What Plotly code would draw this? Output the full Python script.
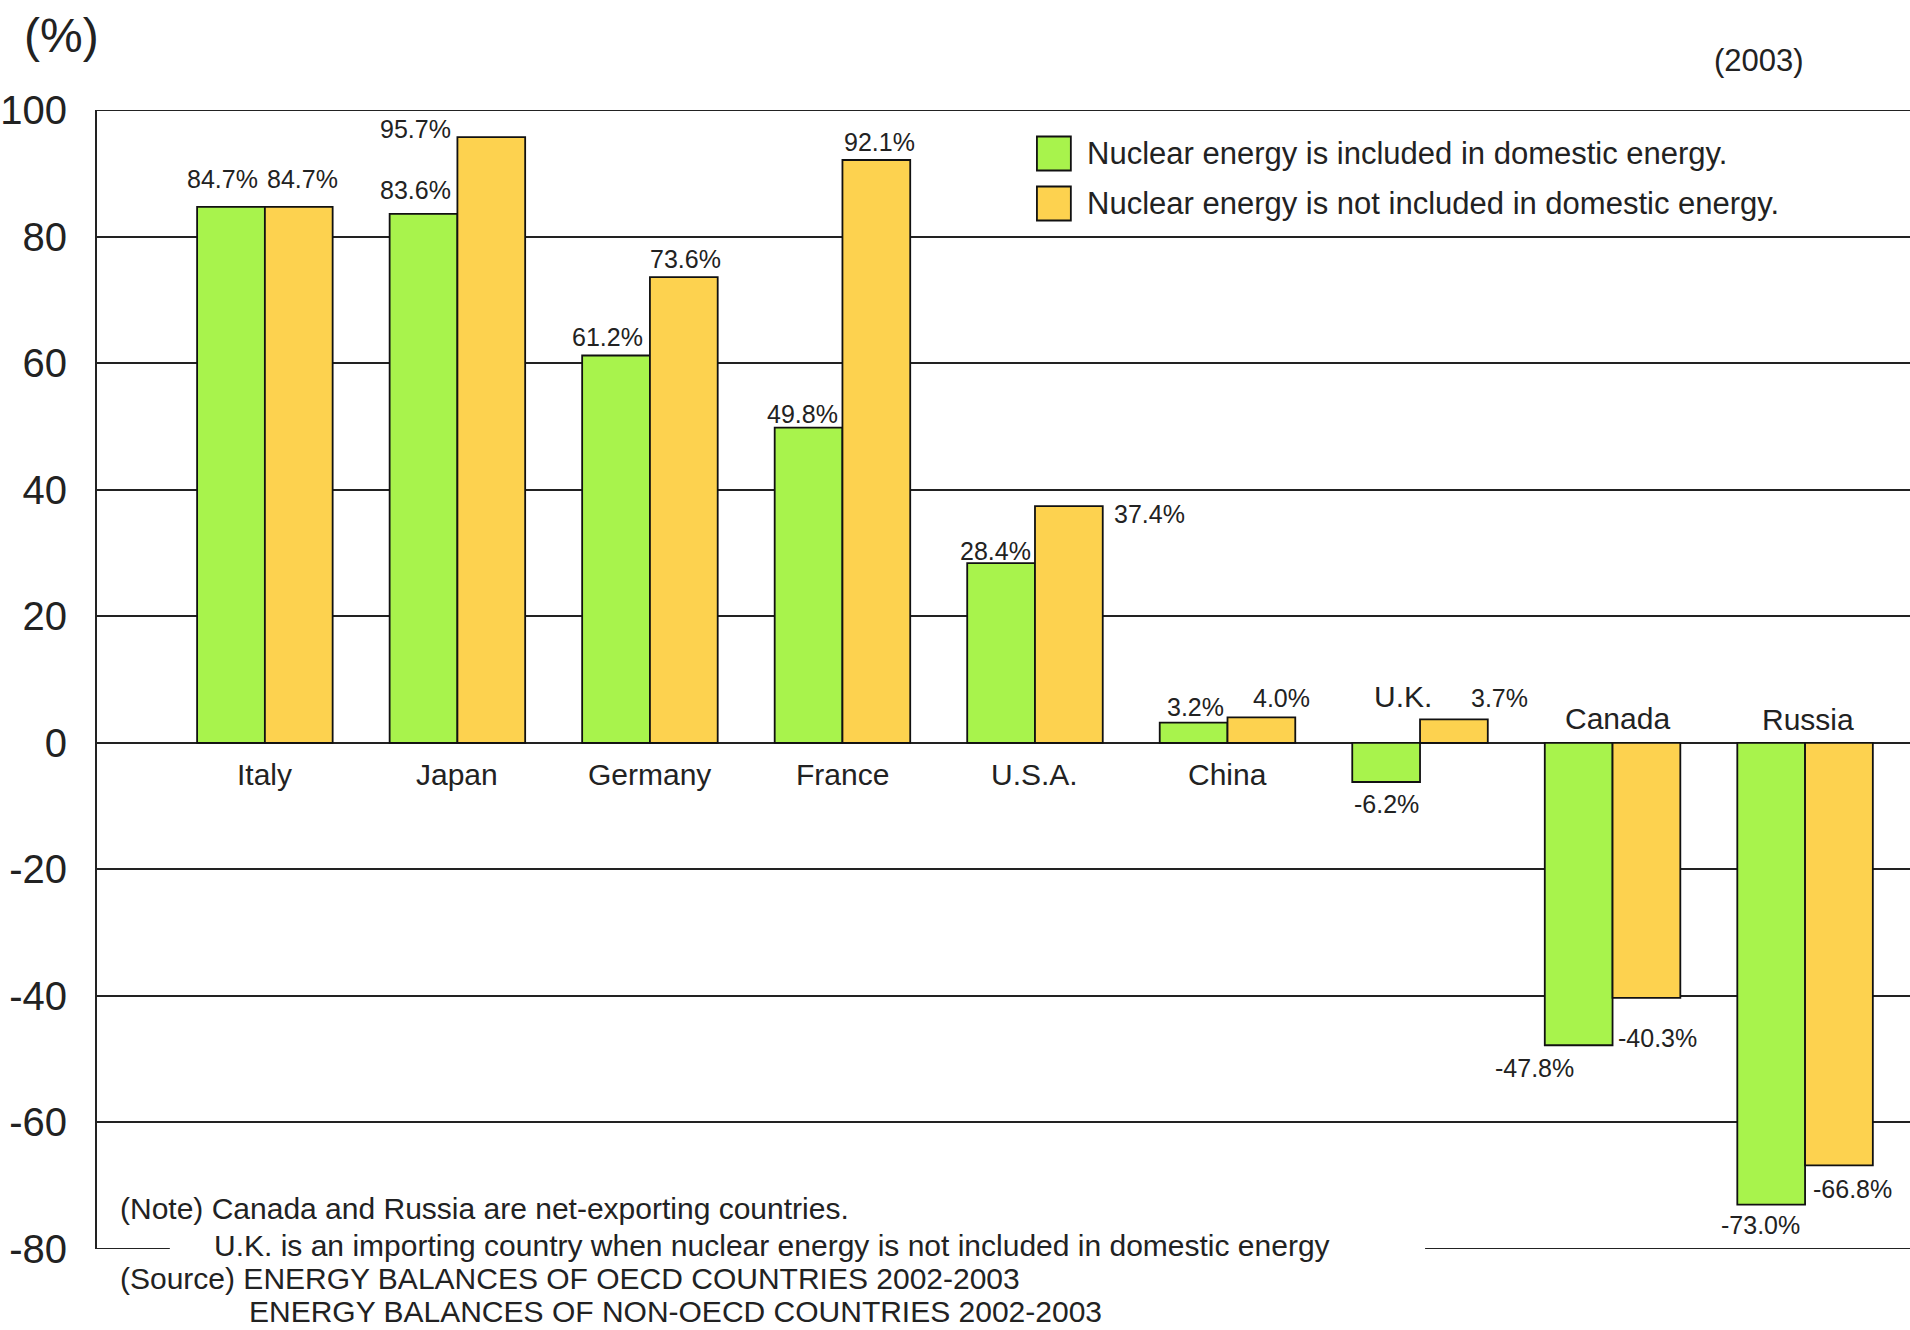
import plotly.graph_objects as go

countries = ["Italy", "Japan", "Germany", "France", "U.S.A.", "China", "U.K.", "Canada", "Russia"]
incl_nuclear = [84.7, 83.6, 61.2, 49.8, 28.4, 3.2, -6.2, -47.8, -73.0]
excl_nuclear = [84.7, 95.7, 73.6, 92.1, 37.4, 4.0, 3.7, -40.3, -66.8]
series_names = ["Nuclear energy is included in domestic energy.",
                "Nuclear energy is not included in domestic energy."]
y_ticks = [-80, -60, -40, -20, 0, 20, 40, 60, 80, 100]

W, H = 1910, 1330
ML, MR, MT, MB = 93, 0, 110, 81
GREEN = "#a8f34c"
ORANGE = "#fdd24f"
INK = "#222"
FONT = "Liberation Sans"

def px(x):
    return (x - ML) / (W - ML - MR)

def py(y):
    return 1 - (y - MT) / (H - MT - MB)

fig = go.Figure()
fig.add_trace(go.Bar(x=countries, y=incl_nuclear, name=series_names[0],
                     marker=dict(color=GREEN, line=dict(color="#111", width=1.8)),
                     showlegend=False))
fig.add_trace(go.Bar(x=countries, y=excl_nuclear, name=series_names[1],
                     marker=dict(color=ORANGE, line=dict(color="#111", width=1.8)),
                     showlegend=False))

# value label placement: (xanchor, xshift px, yshift px) per series per country
green_pos = [("center", -42, 28), ("center", -42, 24), ("center", -42, 19), ("center", -40, 14),
             ("center", -39, 12), ("center", -32, 16), ("center", -34, -22), ("center", -78, -23),
             ("center", -45, -20)]
orange_pos = [("center", 38, 28), ("right", -4, 8), ("center", 36, 18), ("center", 37, 18),
              ("left", 77, -8), ("center", 54, 19), ("center", 79, 21), ("left", 3, -40),
              ("left", 6, -24)]

ann = []
lab_font = dict(family=FONT, size=25, color=INK)
for vals, pos in ((incl_nuclear, green_pos), (excl_nuclear, orange_pos)):
    for c, v, (xa, xs, ys) in zip(countries, vals, pos):
        ann.append(dict(x=c, y=v, xref="x", yref="y", text=f"{v:.1f}%", showarrow=False,
                        xanchor=xa, yanchor="middle", xshift=xs, yshift=ys, font=lab_font))

# category name labels
cat_pos = [(0, -32), (0, -32), (0, -32), (0, -32), (0, -32), (0, -32), (-17, 46), (5, 24), (3, 23)]
for c, (xs, ys) in zip(countries, cat_pos):
    ann.append(dict(x=c, y=0, xref="x", yref="y", text=c, showarrow=False,
                    xanchor="center", yanchor="middle", xshift=xs, yshift=ys,
                    font=dict(family=FONT, size=30, color=INK)))

# unit and year
ann.append(dict(x=px(57), y=py(35), xref="paper", yref="paper", text="(%)", showarrow=False,
                xanchor="center", yanchor="middle", font=dict(family=FONT, size=48, color=INK)))
ann.append(dict(x=px(1759), y=py(60), xref="paper", yref="paper", text="(2003)", showarrow=False,
                xanchor="center", yanchor="middle", font=dict(family=FONT, size=31, color=INK)))

# legend
leg_font = dict(family=FONT, size=31, color=INK)
shapes = []
for i, (name, col) in enumerate(zip(series_names, [GREEN, ORANGE])):
    yc = 153.5 + i * 50
    shapes.append(dict(type="rect", xref="paper", yref="paper",
                       x0=px(1035), x1=px(1069), y0=py(yc - 17), y1=py(yc + 17),
                       fillcolor=col, line=dict(color="#111", width=1.8)))
    ann.append(dict(x=px(1083), y=py(yc), xref="paper", yref="paper", text=name, showarrow=False,
                    xanchor="left", yanchor="middle", font=leg_font))

# frame lines at the top (100) and bottom (-80) of the value range
for yv in (y_ticks[-1], y_ticks[0]):
    shapes.append(dict(type="line", xref="paper", yref="y", x0=0, x1=1, y0=yv, y1=yv,
                       line=dict(color=INK, width=2), layer="below"))

# white mask so the -80 rule is interrupted by the note text
shapes.append(dict(type="rect", xref="paper", yref="paper", layer="above",
                   x0=px(166), x1=px(1424), y0=py(1234), y1=py(1262),
                   fillcolor="white", line=dict(width=0)))

# notes
note_font = dict(family=FONT, size=30, color=INK)
notes = [("(Note) Canada and Russia are net-exporting countries.", 114, 1208),
         ("U.K. is an importing country when nuclear energy is not included in domestic energy", 208, 1245),
         ("(Source) ENERGY BALANCES OF OECD COUNTRIES 2002-2003", 114, 1279),
         ("ENERGY BALANCES OF NON-OECD COUNTRIES 2002-2003", 243, 1311)]
for text, x, y in notes:
    ann.append(dict(x=px(x), y=py(y), xref="paper", yref="paper", text=text, showarrow=False,
                    xanchor="left", yanchor="middle", font=note_font))

fig.update_layout(
    width=W, height=H,
    margin=dict(l=ML, r=MR, t=MT, b=MB, pad=0),
    paper_bgcolor="white", plot_bgcolor="white",
    barmode="group", bargap=0.296, bargroupgap=0,
    xaxis=dict(range=[-0.872, 8.545], showticklabels=False, showgrid=False, zeroline=False,
               showline=False, ticks=""),
    yaxis=dict(range=[-80, 100], tickvals=y_ticks, ticktext=[str(t) for t in y_ticks],
               showgrid=True, gridcolor=INK, gridwidth=2,
               zeroline=True, zerolinecolor=INK, zerolinewidth=2,
               showline=True, linecolor=INK, linewidth=2, ticks="",
               tickfont=dict(family=FONT, size=40, color=INK), ticklabelstandoff=20),
    annotations=ann, shapes=shapes,
    font=dict(family=FONT),
)
fig.write_html("out.html")
